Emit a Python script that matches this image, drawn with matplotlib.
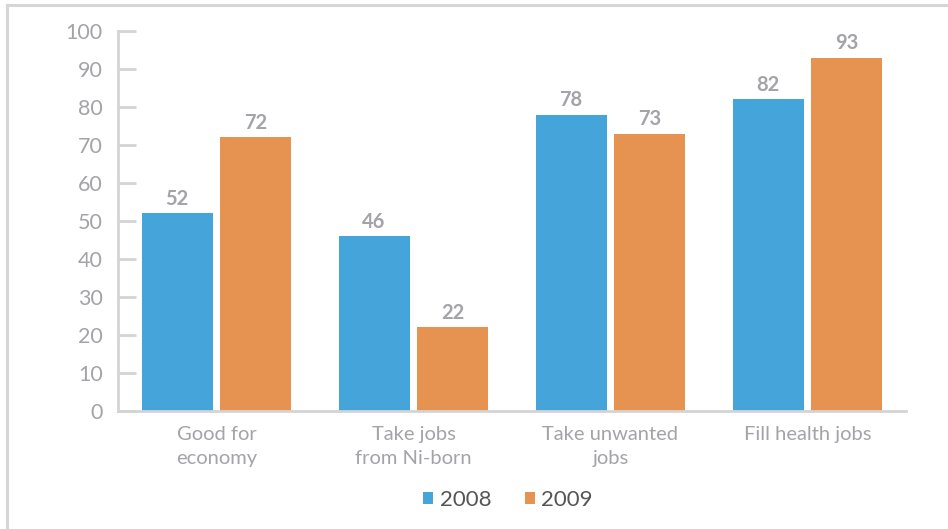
import matplotlib
matplotlib.use("Agg")
import matplotlib.pyplot as plt
import numpy as np
from matplotlib.lines import Line2D

categories = ["Good for\neconomy", "Take jobs\nfrom Ni-born", "Take unwanted\njobs", "Fill health jobs"]
series_names = ["2008", "2009"]
values_2008 = [52, 46, 78, 82]
values_2009 = [72, 22, 73, 93]
yticks = [0, 10, 20, 30, 40, 50, 60, 70, 80, 90, 100]

plt.rcParams['font.family'] = ['Lato', 'DejaVu Sans']

fig = plt.figure(figsize=(9.48, 5.29), dpi=100)
ax = fig.add_axes([118/948, 1-411/529, 788/948, 380/529])

x = np.arange(len(categories))
w = 0.36
off = 0.2
c1, c2 = "#45a5da", "#e69250"
b1 = ax.bar(x - off, values_2008, w, color=c1, label=series_names[0])
b2 = ax.bar(x + off, values_2009, w, color=c2, label=series_names[1])

lab_color = "#a3a3a8"
for bars, vals in ((b1, values_2008), (b2, values_2009)):
    for r, v in zip(bars, vals):
        ax.text(r.get_x() + r.get_width()/2, v + 1.2, str(v), ha="center", va="bottom",
                fontsize=14.5, fontweight="bold", color=lab_color)

ax.set_xlim(-0.5, 3.5)
ax.set_ylim(0, 100)
ax.set_yticks(yticks)
ax.set_yticklabels([str(t) for t in yticks])
ax.set_xticks(x)
ax.set_xticklabels(categories, fontsize=14.5, color=lab_color, linespacing=1.5)
ax.tick_params(axis="x", length=0, pad=11)
ax.tick_params(axis="y", direction="in", length=13, width=2, color="#d4d4d4",
               labelsize=15.5, labelcolor=lab_color, pad=11)
for s in ("top", "right"):
    ax.spines[s].set_visible(False)
for s in ("left", "bottom"):
    ax.spines[s].set_color("#d4d4d4")
    ax.spines[s].set_linewidth(2)

leg = fig.legend(handles=[b1, b2], labels=series_names, loc="center", bbox_to_anchor=(508/948, 1-500/529),
                 ncol=2, frameon=False, fontsize=16, handlelength=0.45, handleheight=0.45,
                 columnspacing=1.5, handletextpad=0.3)
for t in leg.get_texts():
    t.set_color("#555555")

fig.add_artist(Line2D([7/948, 7/948], [0, 1-5/529], transform=fig.transFigure, color="#d6d6d6", lw=2.2))
fig.add_artist(Line2D([7/948, 1], [1-5/529, 1-5/529], transform=fig.transFigure, color="#d6d6d6", lw=2.2))

fig.savefig("out.png", dpi=100)
